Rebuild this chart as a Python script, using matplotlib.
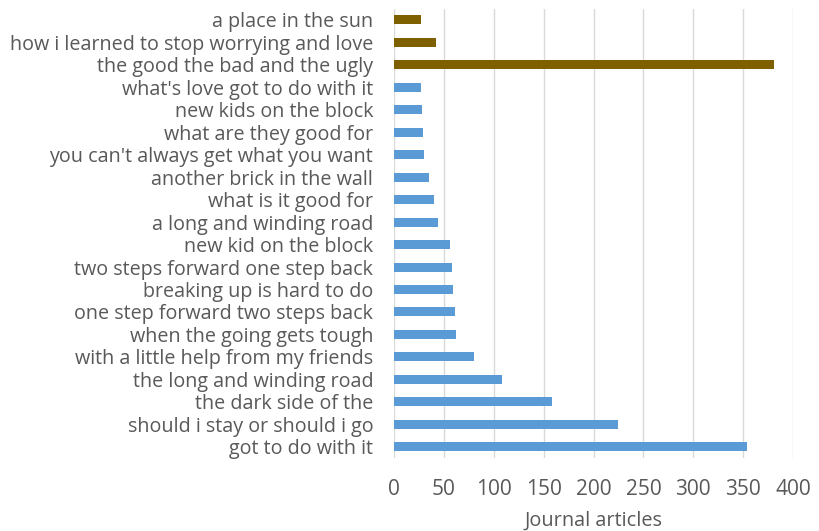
import matplotlib
matplotlib.use("Agg")
import matplotlib.pyplot as plt

categories = [
    "a place in the sun",
    "how i learned to stop worrying and love",
    "the good the bad and the ugly",
    "what's love got to do with it",
    "new kids on the block",
    "what are they good for",
    "you can't always get what you want",
    "another brick in the wall",
    "what is it good for",
    "a long and winding road",
    "new kid on the block",
    "two steps forward one step back",
    "breaking up is hard to do",
    "one step forward two steps back",
    "when the going gets tough",
    "with a little help from my friends",
    "the long and winding road",
    "the dark side of the",
    "should i stay or should i go",
    "got to do with it",
]
values = [27, 42, 381, 27, 28, 29, 30, 35, 40, 44, 56, 58, 59, 61, 62, 80, 108, 158, 225, 354]
highlight = [True, True, True] + [False] * 17
xticks = [0, 50, 100, 150, 200, 250, 300, 350, 400]
xlabel = "Journal articles"

plt.rcParams['font.family'] = ['Open Sans', 'DejaVu Sans']
fig = plt.figure(figsize=(8.2, 5.31), dpi=100)
ax = fig.add_axes([0.4805, 0.1375, 0.4866, 0.846])

n = len(categories)
ypos = list(range(n))
colors = ['#7F6000' if h else '#5B9BD5' for h in highlight]
ax.barh(ypos, values, height=0.4, color=colors, zorder=3)
ax.set_ylim(n - 0.5, -0.5)
ax.set_xlim(0, 400)
ax.set_yticks(ypos)
ax.set_yticklabels(categories, fontsize=14.2, color='#595959')
ax.set_xticks(xticks)
ax.set_xticklabels([str(t) for t in xticks], fontsize=15, color='#595959')
ax.tick_params(axis='both', length=0)
ax.tick_params(axis='x', pad=15)
ax.tick_params(axis='y', pad=15)
ax.grid(axis='x', color='#D9D9D9', linewidth=1, zorder=0)
for s in ax.spines.values():
    s.set_visible(False)
ax.set_xlabel(xlabel, fontsize=14.3, color='#595959', labelpad=8)
fig.savefig("out.png", dpi=100)
